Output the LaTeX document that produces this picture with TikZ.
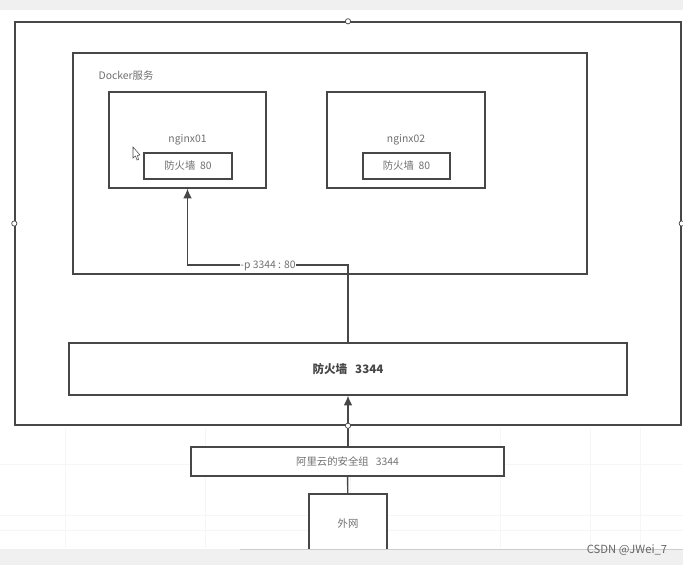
\documentclass[tikz,border=0pt]{standalone}
\usepackage{fontspec}
\setmainfont{Noto Sans CJK SC}
\usetikzlibrary{arrows.meta}
\usetikzlibrary{shapes,arrows}
\definecolor{trait}{HTML}{474747}
\definecolor{texte}{HTML}{707070}
\definecolor{bande}{HTML}{F0F0F0}
\definecolor{grille}{HTML}{F6F6F6}
\begin{document}
\begin{tikzpicture}[x=0.02cm,y=-0.02cm]
%styledesnœuds
\tikzstyle{boite}=[rectangle,draw=trait,line width=0.8pt,fill=white,inner sep=0pt,text=texte,font=\fontsize{5.9pt}{7pt}\selectfont]
\tikzstyle{etiquette}=[text=texte,inner sep=0.5pt,font=\fontsize{5.9pt}{7pt}\selectfont]
\tikzstyle{poignee}=[circle,draw=trait,line width=0.4pt,fill=white,inner sep=0pt,minimum size=3pt]
%styledesflèches
\tikzstyle{suite}=[draw=trait,line width=0.8pt,-{Latex[length=5.5pt,width=5pt]}]
\tikzstyle{lien}=[draw=trait,line width=0.8pt]
\useasboundingbox (0,0) rectangle (683,565);
%fond
\fill[white] (0,0) rectangle (683,565);
\fill[bande] (0,0) rectangle (683,10);
\foreach \x in {65,205,350,500,590,640}
  \draw[grille,line width=0.5pt] (\x,428) -- (\x,548);
\foreach \y in {464,515,530}
  \draw[grille,line width=0.5pt] (0,\y) -- (683,\y);
%placementdesnœuds
\node[boite,minimum width=666*0.02cm,minimum height=403*0.02cm] (serveur) at (348,223.5) {};
\node[boite,minimum width=514*0.02cm,minimum height=221*0.02cm] (docker) at (330,163.5) {};
\node[etiquette] (titre) at (126,76) {Docker服务};
\node[boite,minimum width=157*0.02cm,minimum height=96*0.02cm] (nginxa) at (187.5,140) {};
\node[boite,minimum width=158*0.02cm,minimum height=96*0.02cm] (nginxb) at (406,140) {};
\node[etiquette] (noma) at (187.5,140) {nginx01};
\node[etiquette] (nomb) at (406,140) {nginx02};
\node[boite,minimum width=88*0.02cm,minimum height=26*0.02cm] (mura) at (188,166) {防火墙 \ 80};
\node[boite,minimum width=87*0.02cm,minimum height=26*0.02cm] (murb) at (406.5,166) {防火墙 \ 80};
\node[boite,minimum width=558*0.02cm,minimum height=52*0.02cm,font=\fontsize{6.6pt}{8pt}\selectfont\bfseries,text=trait] (mur) at (348,369) {防火墙 \ \ 3344};
\node[boite,minimum width=313*0.02cm,minimum height=29*0.02cm] (groupe) at (347.5,461.5) {阿里云的安全组 \ \ 3344};
\node[boite,minimum width=78*0.02cm,minimum height=60*0.02cm] (externe) at (348,524) {外网};
\node[poignee] (haut) at (serveur.north) {};
\node[poignee] (gauche) at (serveur.west) {};
\node[poignee] (droite) at (serveur.east) {};
%Placementdesflèches
\draw[lien] (externe) -- (groupe);
\draw[suite] (groupe.north -| mur) -- (mur);
\draw[suite] (mur.north) |- (268,265) -| (nginxa.south);
\node[etiquette,fill=white] (port) at (268,266) {-p 3344 : 80};
\node[poignee] (bas) at (serveur.south) {};
%bande du bas
\fill[bande] (0,549) rectangle (683,565);
\draw[black!20,line width=0.5pt] (240,549) -- (683,549);
\node[text=black!60,inner sep=0pt,font=\fontsize{6.4pt}{7pt}\selectfont] (marque) at (627,550) {CSDN @JWei\_7};
%curseur
\draw[trait,line width=0.3pt,fill=white] (133,147) -- (133,158) -- (135.5,156) -- (137,160) -- (138.5,159.5) -- (137.5,155.5) -- (140,155) -- cycle;
\end{tikzpicture}
\end{document}
